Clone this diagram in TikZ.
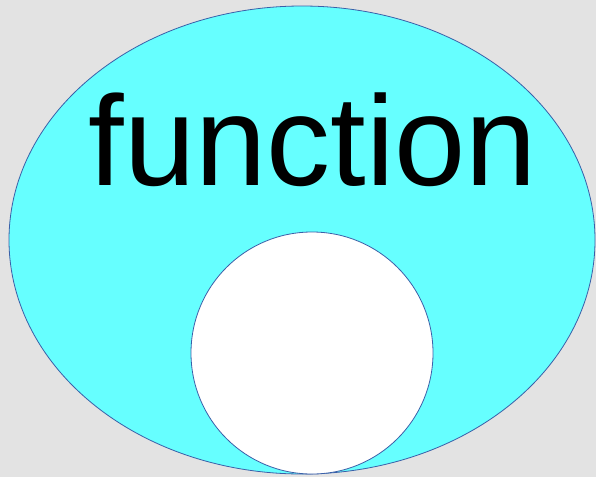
\documentclass[tikz,border=0pt]{standalone}
\usepackage{fontspec}
\usepackage{xcolor}
\usetikzlibrary{shapes.geometric}
\setmainfont{Liberation Sans}
\definecolor{marble}{HTML}{E3E3E3}
\definecolor{aqua}{HTML}{66FFFF}
\definecolor{rim}{HTML}{3A5FA8}

\begin{document}
\begin{tikzpicture}[x=1pt,y=-1pt,
      set/.style={draw=rim,line width=.8pt,inner sep=0pt},
      outerset/.style={set,ellipse,fill=aqua,minimum width=586pt,minimum height=468pt},
      innerset/.style={set,circle,fill=white,minimum size=242pt}]
      \fill[marble] (0,0) rectangle (596,477);
      \useasboundingbox (0,0) rectangle (596,477);
      \node[outerset] (fn) at (302,240) {};
      \node[innerset] (hole) at (312,353) {};
      \node[anchor=base,inner sep=0pt,font=\fontsize{128}{130}\selectfont] (name) at (313,185) {function};
    \end{tikzpicture}
\end{document}
